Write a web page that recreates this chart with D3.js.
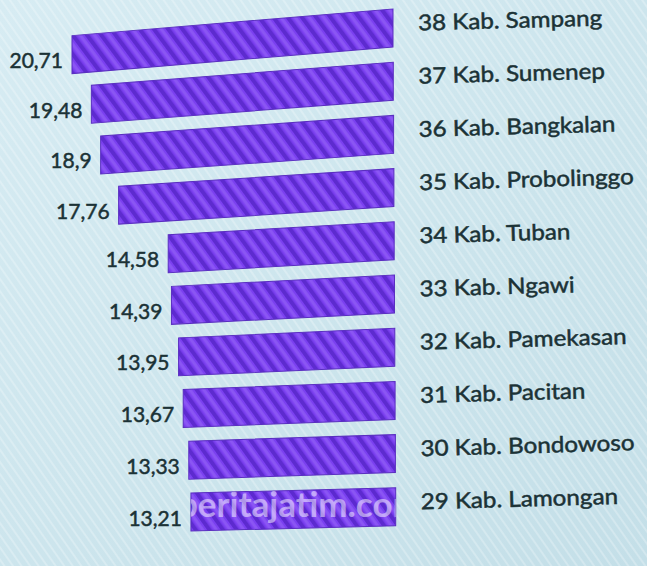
<!DOCTYPE html>
<html><head><meta charset="utf-8">
<script src="https://cdn.jsdelivr.net/npm/d3@7"></script>
<style>html,body{margin:0;padding:0;background:#cde5ee;overflow:hidden}</style>
</head><body>
<script>
const categories = ["38 Kab. Sampang","37 Kab. Sumenep","36 Kab. Bangkalan","35 Kab. Probolinggo","34 Kab. Tuban","33 Kab. Ngawi","32 Kab. Pamekasan","31 Kab. Pacitan","30 Kab. Bondowoso","29 Kab. Lamongan"];
const values = [20.71,19.48,18.9,17.76,14.58,14.39,13.95,13.67,13.33,13.21];
const watermark = "beritajatim.com";

const W = 647, H = 566;
const svg = d3.select("body").append("svg").attr("width", W).attr("height", H);
const defs = svg.append("defs");

const bg = defs.append("linearGradient").attr("id","bg").attr("x1","0").attr("y1","0").attr("x2","1").attr("y2","1");
bg.append("stop").attr("offset","0%").attr("stop-color","#d7ecf3");
bg.append("stop").attr("offset","60%").attr("stop-color","#cbe4ec");
bg.append("stop").attr("offset","100%").attr("stop-color","#c4dfe8");
svg.append("rect").attr("width",W).attr("height",H).attr("fill","url(#bg)");

const bgp = defs.append("pattern").attr("id","bgtex").attr("patternUnits","userSpaceOnUse")
  .attr("width",7).attr("height",7).attr("patternTransform","rotate(-35)");
bgp.append("rect").attr("width",2).attr("height",7).attr("fill","#ffffff").attr("opacity",0.25);
svg.append("rect").attr("width",W).attr("height",H).attr("fill","url(#bgtex)");

const pat = defs.append("pattern").attr("id","hatch").attr("patternUnits","userSpaceOnUse")
  .attr("width",11).attr("height",11).attr("patternTransform","rotate(-35)");
pat.append("rect").attr("width",11).attr("height",11).attr("fill","#7b40f0");
pat.append("rect").attr("x",0).attr("width",4).attr("height",11).attr("fill","#5224c4").attr("opacity",0.75);
pat.append("rect").attr("x",6).attr("width",3).attr("height",11).attr("fill","#9b6cf7").attr("opacity",0.5);

const xR = 393;
const x = d3.scaleLinear().domain([0, 21]).range([0, 325.5]);
const y = d3.scaleBand().domain(categories).range([9, 525.8]).paddingInner(0.286).paddingOuter(0);
const bh = y.bandwidth();

const data = categories.map((c, i) => ({c, v: values[i], i}));
const tilt = i => 0.083 - 0.0064 * i;   // photo perspective
const rowTransform = d => `translate(${xR + 0.3*d.i},${y(d.c) + bh/2}) matrix(1,${-tilt(d.i)},0,1,0,0)`;

const rows = svg.selectAll("g.row").data(data).join("g").attr("class","row");

rows.append("g")
  .attr("transform", rowTransform)
  .append("rect")
  .attr("x", d => -x(d.v)).attr("y", -bh/2)
  .attr("width", d => x(d.v)).attr("height", bh)
  .attr("fill","url(#hatch)").attr("stroke","#5a2fc0").attr("stroke-width",1);

rows.append("text")
  .attr("x", d => xR + 0.3*d.i - x(d.v) - 9)
  .attr("y", d => y(d.c) + bh/2 + tilt(d.i) * x(d.v) + 5)
  .attr("text-anchor","end").attr("dominant-baseline","central")
  .attr("font-family","Lato, 'Open Sans', sans-serif").attr("font-size",21)
  .attr("fill","#1b3236").attr("stroke","#1b3236").attr("stroke-width",0.5)
  .text(d => String(d.v).replace(".", ","));

rows.append("text")
  .attr("transform", d => `translate(${418 + 0.3*d.i},${y(d.c) + bh/2 - 6}) rotate(-1.6) scale(1.1,1)`)
  .attr("dominant-baseline","central")
  .attr("font-family","Lato, 'Open Sans', sans-serif").attr("font-size",22)
  .attr("fill","#1b3236").attr("stroke","#1b3236").attr("stroke-width",0.5)
  .text(d => d.c);

// watermark, visible only over the last bar
const last = data[data.length - 1];
defs.append("clipPath").attr("id","wmclip")
  .append("rect")
  .attr("transform", rowTransform(last))
  .attr("x", -x(last.v)).attr("y", -bh/2).attr("width", x(last.v)).attr("height", bh);
svg.append("text")
  .attr("clip-path","url(#wmclip)")
  .attr("x", 178).attr("y", y(last.c) + bh/2 - 4)
  .attr("dominant-baseline","central")
  .attr("font-family","Lato, sans-serif").attr("font-weight","bold").attr("font-size",35)
  .attr("fill","#ffffff").attr("opacity",0.5)
  .text(watermark);
</script>
</body></html>
